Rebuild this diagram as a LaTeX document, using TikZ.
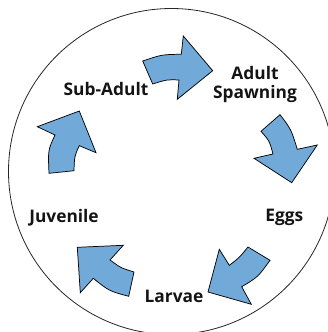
\documentclass[tikz,border=0pt]{standalone}
\usepackage{fontspec}
\setmainfont{Open Sans}
\definecolor{arrowblue}{HTML}{71AAD9}
\tikzset{
  cyclearrow/.style={fill=arrowblue,draw=black,line width=0.55pt,line join=miter},
  stagelabel/.style={inner sep=0pt,align=center,font=\fontsize{13}{16}\selectfont\bfseries,text=black!92}
}
\begin{document}
\begin{tikzpicture}[x=0.75pt,y=-0.75pt]
\clip (0,0) rectangle (328,332);
\draw[line width=0.6pt,black!85] (171.5,171.5) circle[radius=163];
% arrows
\path[cyclearrow] (142.7,61) .. controls (162,54.5) .. (181.3,54.3) -- (183.3,36) -- (212.7,70.7) -- (177.3,99.3) -- (179,80) .. controls (167,79.5) .. (152.7,84) -- cycle;
\path[cyclearrow] (280,114.7) .. controls (291,129) .. (297.3,149.3) -- (317.3,145) -- (291.7,182.7) -- (254,158.3) -- (273,154) .. controls (269.5,141) .. (261,131.3) -- cycle;
\path[cyclearrow] (270,260.3) .. controls (258,277) .. (241.7,286.7) -- (251.3,304.3) -- (208,292) -- (219.3,249.3) -- (229.3,265.3) .. controls (239,258) .. (248,247) -- cycle;
\path[cyclearrow] (134,272) .. controls (121,268) .. (110,260) -- (123.3,245.3) -- (77.3,247.3) -- (80.3,292.7) -- (93.3,278.3) .. controls (109,291) .. (128.7,296.3) -- cycle;
\path[cyclearrow] (49,173.3) .. controls (48,150) .. (55,135) -- (37.3,126.7) -- (79.3,111) -- (96,152.7) -- (79.3,145.7) .. controls (74.5,156) .. (74,170.7) -- cycle;
% labels
\node[stagelabel] (subadult) at (106,89) {Sub-Adult};
\node[stagelabel] (adult) at (255,72.7) {Adult};
\node[stagelabel] (spawning) at (255,94) {Spawning};
\node[stagelabel] (eggs) at (284.3,217.7) {Eggs};
\node[stagelabel] (larvae) at (174,296) {Larvae};
\node[stagelabel] (juvenile) at (64,217.7) {Juvenile};
\end{tikzpicture}
\end{document}
